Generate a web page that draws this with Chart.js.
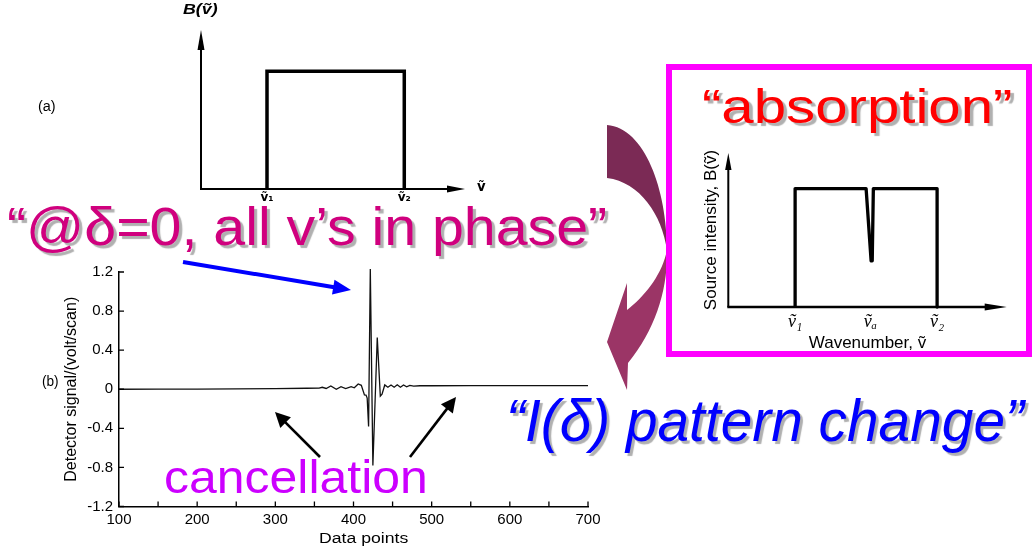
<!DOCTYPE html>
<html><head><meta charset="utf-8">
<script src="https://cdn.jsdelivr.net/npm/chart.js@4.4.1/dist/chart.umd.min.js"></script>
<style>
html,body{margin:0;padding:0;background:#fff;}
#stage{position:relative;width:1032px;height:548px;overflow:hidden;background:#fff;}
#stage canvas{position:absolute;left:0;top:0;}
.txt{position:absolute;white-space:nowrap;line-height:1;transform-origin:0 0;}
.ov{position:absolute;left:0;top:0;}
#pinkbox{position:absolute;left:666px;top:64px;width:366px;height:293px;box-sizing:border-box;border:6px solid #ff00ff;}
</style></head><body>
<div id="stage">
  <canvas id="cA" width="1032" height="548"></canvas>
  <canvas id="cB" width="1032" height="548"></canvas>
  <canvas id="cC" width="1032" height="548"></canvas>
  <svg class="ov" id="svgBack" width="1032" height="548"></svg>
  <div id="pinkbox"></div>
  <svg class="ov" id="svgFront" width="1032" height="548"></svg>
</div>
<script>
// ---------------- DATA ----------------
// (b) interferogram: detector signal vs data points
const interferogramX = [100, 150, 200, 250, 300, 340, 356, 360, 365, 371, 378, 384, 390, 397, 401, 406, 410, 414, 416, 417.5, 419.3, 421.5, 424.8, 430.4, 434.3, 436.5, 440, 444, 448, 452, 456, 460, 464, 468, 472, 477, 485, 500, 550, 600, 650, 700];
const interferogramY = [0.000, 0.001, 0.002, 0.004, 0.006, 0.010, 0.012, 0.020, 0.008, 0.034, 0.000, 0.027, 0.007, 0.027, 0.015, 0.054, 0.040, -0.058, -0.060, -0.090, -0.380, 1.230, -0.780, 0.530, -0.070, -0.050, 0.044, 0.020, 0.044, 0.020, 0.046, 0.020, 0.044, 0.025, 0.040, 0.032, 0.036, 0.036, 0.037, 0.037, 0.038, 0.038];
const bXTicks = [100, 200, 300, 400, 500, 600, 700];
const bXTickLabels = ['100', '200', '300', '400', '500', '600', '700'];
const bXTickMarks = [100, 150, 200, 250, 300, 350, 400, 450, 500, 550, 600, 650, 700];
const bYTicks = [-1.2, -0.8, -0.4, 0, 0.4, 0.8, 1.2];
const bYTickLabels = ['-1.2', '-0.8', '-0.4', '0', '0.4', '0.8', '1.2'];

// (a) source spectrum B(v): top-hat between v1 and v2
const sourceX = [2.5, 2.5, 7.7, 7.7];
const sourceY = [0, 1, 1, 0];
const sourceTicks = [2.5, 7.7];
const sourceTickLabels = ['ṽ₁', 'ṽ₂'];

// absorption spectrum: top-hat with a narrow absorption line at va
const absorbX = [2.4, 2.4, 4.95, 5.13, 5.17, 5.21, 7.5, 7.5];
const absorbY = [0, 1, 1, 0.39, 0.39, 1, 1, 0];
const absorbTicks = [2.4, 5.1, 7.5];
const absorbTickLabels = ['ṽ₁', 'ṽₐ', 'ṽ₂'];

// ---------------- PLUGINS ----------------
const arrowAxes = {
  id: 'arrowAxes',
  beforeDatasetsDraw(chart, args, o) {
    const {ctx, chartArea: {left, right, top, bottom}} = chart;
    ctx.save();
    ctx.strokeStyle = '#000'; ctx.fillStyle = '#000';
    ctx.lineWidth = o.xw;
    ctx.beginPath(); ctx.moveTo(left - o.yw / 2, bottom); ctx.lineTo(right - o.xl + 2, bottom); ctx.stroke();
    ctx.beginPath(); ctx.moveTo(right, bottom); ctx.lineTo(right - o.xl, bottom - o.xh); ctx.lineTo(right - o.xl, bottom + o.xh); ctx.closePath(); ctx.fill();
    ctx.lineWidth = o.yw;
    ctx.beginPath(); ctx.moveTo(left, bottom); ctx.lineTo(left, top + o.yl - 2); ctx.stroke();
    ctx.beginPath(); ctx.moveTo(left, top); ctx.lineTo(left - o.yh, top + o.yl); ctx.lineTo(left + o.yh, top + o.yl); ctx.closePath(); ctx.fill();
    ctx.restore();
  }
};
const innerTicks = {
  id: 'innerTicks',
  afterDraw(chart) {
    const {ctx, chartArea: {left, bottom}, scales: {x, y}} = chart;
    ctx.save(); ctx.strokeStyle = '#000'; ctx.lineWidth = 1.3;
    ctx.beginPath();
    bXTickMarks.forEach(v => { const px = x.getPixelForValue(v); ctx.moveTo(px, bottom); ctx.lineTo(px, bottom - 5); });
    bYTicks.forEach(v => { const py = y.getPixelForValue(v); ctx.moveTo(left, py); ctx.lineTo(left + 5, py); });
    ctx.stroke(); ctx.restore();
  }
};
const pts = (xs, ys) => xs.map((x, i) => ({x, y: ys[i]}));
const common = {responsive: false, animation: false, events: [], plugins: {legend: {display: false}, tooltip: {enabled: false}}};

// ---------------- CHART (a) ----------------
new Chart(document.getElementById('cA'), {
  type: 'scatter',
  data: {datasets: [{data: pts(sourceX, sourceY), showLine: true, borderColor: '#000', borderWidth: 3.5, pointRadius: 0, tension: 0, borderJoinStyle: 'miter', clip: false}]},
  options: Object.assign({}, common, {
    layout: {padding: {left: 201, right: 567, top: 30, bottom: 334}},
    plugins: Object.assign({}, common.plugins, {arrowAxes: {xw: 2, yw: 2, xl: 18, xh: 3.5, yl: 20, yh: 3.5}}),
    scales: {
      x: {type: 'linear', min: 0, max: 10,
          afterBuildTicks: s => { s.ticks = sourceTicks.map(v => ({value: v})); },
          afterFit: s => { s.height = 25; },
          grid: {display: false, drawTicks: false}, border: {display: false},
          ticks: {padding: 2, color: '#000', font: {family: 'DejaVu Sans', size: 12, weight: 'bold'},
                  callback: v => sourceTickLabels[sourceTicks.indexOf(v)]}},
      y: {display: false, min: 0, max: 1.35}
    }
  }),
  plugins: [arrowAxes]
});

// ---------------- CHART (b) ----------------
new Chart(document.getElementById('cB'), {
  type: 'scatter',
  data: {datasets: [{data: pts(interferogramX, interferogramY), showLine: true, borderColor: '#111', borderWidth: 1.3, pointRadius: 0, tension: 0, clip: false}]},
  options: Object.assign({}, common, {
    layout: {padding: {left: 58, right: 444, top: 272, bottom: 11.5}},
    scales: {
      x: {type: 'linear', min: 100, max: 700,
          afterBuildTicks: s => { s.ticks = bXTicks.map(v => ({value: v})); },
          afterFit: s => { s.height = 30; },
          grid: {display: false, drawTicks: false}, border: {display: true, color: '#000', width: 1.5},
          ticks: {padding: 4, color: '#000', font: {family: 'Liberation Sans', size: 15},
                  callback: v => bXTickLabels[bXTicks.indexOf(v)]}},
      y: {min: -1.2, max: 1.2,
          afterBuildTicks: s => { s.ticks = bYTicks.map(v => ({value: v})); },
          afterFit: s => { s.width = 61; },
          grid: {display: false, drawTicks: false}, border: {display: true, color: '#000', width: 1.5},
          ticks: {padding: 6, color: '#000', font: {family: 'Liberation Sans', size: 15},
                  callback: v => bYTickLabels[bYTicks.indexOf(v)]},
          title: {display: true, text: 'Detector signal/(volt/scan)', color: '#000', font: {family: 'Liberation Sans', size: 16}, padding: {top: 4, bottom: 4}}}
    }
  }),
  plugins: [innerTicks]
});

// ---------------- CHART (absorption) ----------------
new Chart(document.getElementById('cC'), {
  type: 'scatter',
  data: {datasets: [{data: pts(absorbX, absorbY), showLine: true, borderColor: '#000', borderWidth: 3.3, pointRadius: 0, tension: 0, borderJoinStyle: 'round', clip: false}]},
  options: Object.assign({}, common, {
    layout: {padding: {left: 697.5, right: 25.3, top: 153, bottom: 190.8}},
    plugins: Object.assign({}, common.plugins, {arrowAxes: {xw: 2.5, yw: 2, xl: 22, xh: 3.5, yl: 17, yh: 3.2}}),
    scales: {
      x: {type: 'linear', min: 0, max: 10,
          afterBuildTicks: s => { s.ticks = absorbTicks.map(v => ({value: v})); },
          afterFit: s => { s.height = 50.2; },
          grid: {display: false, drawTicks: false}, border: {display: false},
          ticks: {padding: 4, color: '#000', font: {family: 'Liberation Serif', size: 18, style: 'italic'},
                  callback: v => absorbTickLabels[absorbTicks.indexOf(v)]},
          title: {display: true, text: 'Wavenumber, ṽ', color: '#000', font: {family: 'Liberation Sans', size: 17}, padding: {top: 4, bottom: 4}}},
      y: {min: 0, max: 1.3,
          afterFit: s => { s.width = 30.8; },
          grid: {display: false, drawTicks: false}, border: {display: false},
          ticks: {display: false},
          title: {display: true, text: 'Source intensity, B(ṽ)', color: '#000', font: {family: 'Liberation Sans', size: 17}, padding: {top: 4, bottom: 4}}}
    }
  }),
  plugins: [arrowAxes]
});

// ---------------- DECORATION (arrows) ----------------
const NS = 'http://www.w3.org/2000/svg';
function svgEl(parent, tag, attrs) { const e = document.createElementNS(NS, tag); for (const k in attrs) e.setAttribute(k, attrs[k]); parent.appendChild(e); return e; }
const back = document.getElementById('svgBack');
svgEl(back, 'path', {d: 'M607,125 C645,128 667,190 667,250 C662,215 640,182 607,178 Z', fill: '#7b2a55'});
svgEl(back, 'path', {d: 'M667,250 C668,290 655,330 628,363 L627,390 L607,342 L627,283 L627,310 C645,296 662,275 667,250 Z', fill: '#9b3566'});
const front = document.getElementById('svgFront');
function arrow(x1, y1, x2, y2, w, hl, hw, color) {
  const dx = x2 - x1, dy = y2 - y1, L = Math.hypot(dx, dy), ux = dx / L, uy = dy / L;
  const bx = x2 - ux * hl, by = y2 - uy * hl, nx = -uy * hw, ny = ux * hw;
  svgEl(front, 'line', {x1, y1, x2: bx + ux, y2: by + uy, stroke: color, 'stroke-width': w});
  svgEl(front, 'polygon', {points: `${x2},${y2} ${bx + nx},${by + ny} ${bx - nx},${by - ny}`, fill: color});
}
arrow(183, 262, 351, 290, 4, 18, 7.5, '#0000ff');
arrow(320, 457, 275, 412, 2.6, 15, 7.5, '#000');
arrow(410, 457, 456, 397, 2.6, 15, 7.5, '#000');

// ---------------- TEXT ----------------
const stage = document.getElementById('stage');
const mctx = document.createElement('canvas').getContext('2d');
function placeText(t) {
  const el = document.createElement('div');
  el.className = 'txt';
  el.textContent = t.text;
  const fontStr = `${t.style || 'normal'} ${t.weight || 'normal'} ${t.size}px ${t.family || "'Liberation Sans'"}`;
  el.style.font = fontStr;
  el.style.lineHeight = '1';
  el.style.color = t.color || '#000';
  if (t.shadow) el.style.textShadow = t.shadow;
  mctx.font = fontStr;
  const m = mctx.measureText(t.text);
  const ink = m.actualBoundingBoxRight + m.actualBoundingBoxLeft;
  const s = t.width ? t.width / ink : 1;
  const asc = m.fontBoundingBoxAscent, desc = m.fontBoundingBoxDescent;
  const top = t.baseline - ((t.size - (asc + desc)) / 2 + asc);
  el.style.left = (t.left + m.actualBoundingBoxLeft * s) + 'px';
  el.style.top = top + 'px';
  el.style.transform = `scaleX(${s})`;
  stage.appendChild(el);
}
const shadow = '3px 3px 1px #b0b0b0';
[
  {text: '“absorption”', left: 703, width: 308, baseline: 123, size: 48, color: '#ff0000', shadow},
  {text: '“@δ=0, all v’s in phase”', left: 8, width: 597, baseline: 245, size: 54, color: '#d0007e', shadow},
  {text: '“I(δ) pattern change”', left: 510, width: 517, baseline: 441, size: 60, style: 'italic', color: '#0000ff', shadow},
  {text: 'cancellation', left: 165, width: 260, baseline: 492.7, size: 46, color: '#cc00ff'},
  {text: '(a)', left: 38, width: 17, baseline: 111, size: 14},
  {text: '(b)', left: 42, width: 16, baseline: 386, size: 14},
  {text: 'B(ṽ)', left: 183, width: 35, baseline: 14, size: 14, style: 'italic', weight: 'bold'},
  {text: 'ṽ', left: 477, width: 8.5, baseline: 191, size: 14, weight: 'bold', family: "'DejaVu Sans'"},
  {text: 'Data points', left: 320, width: 88, baseline: 543, size: 14}
].forEach(placeText);
</script>
</body></html>
